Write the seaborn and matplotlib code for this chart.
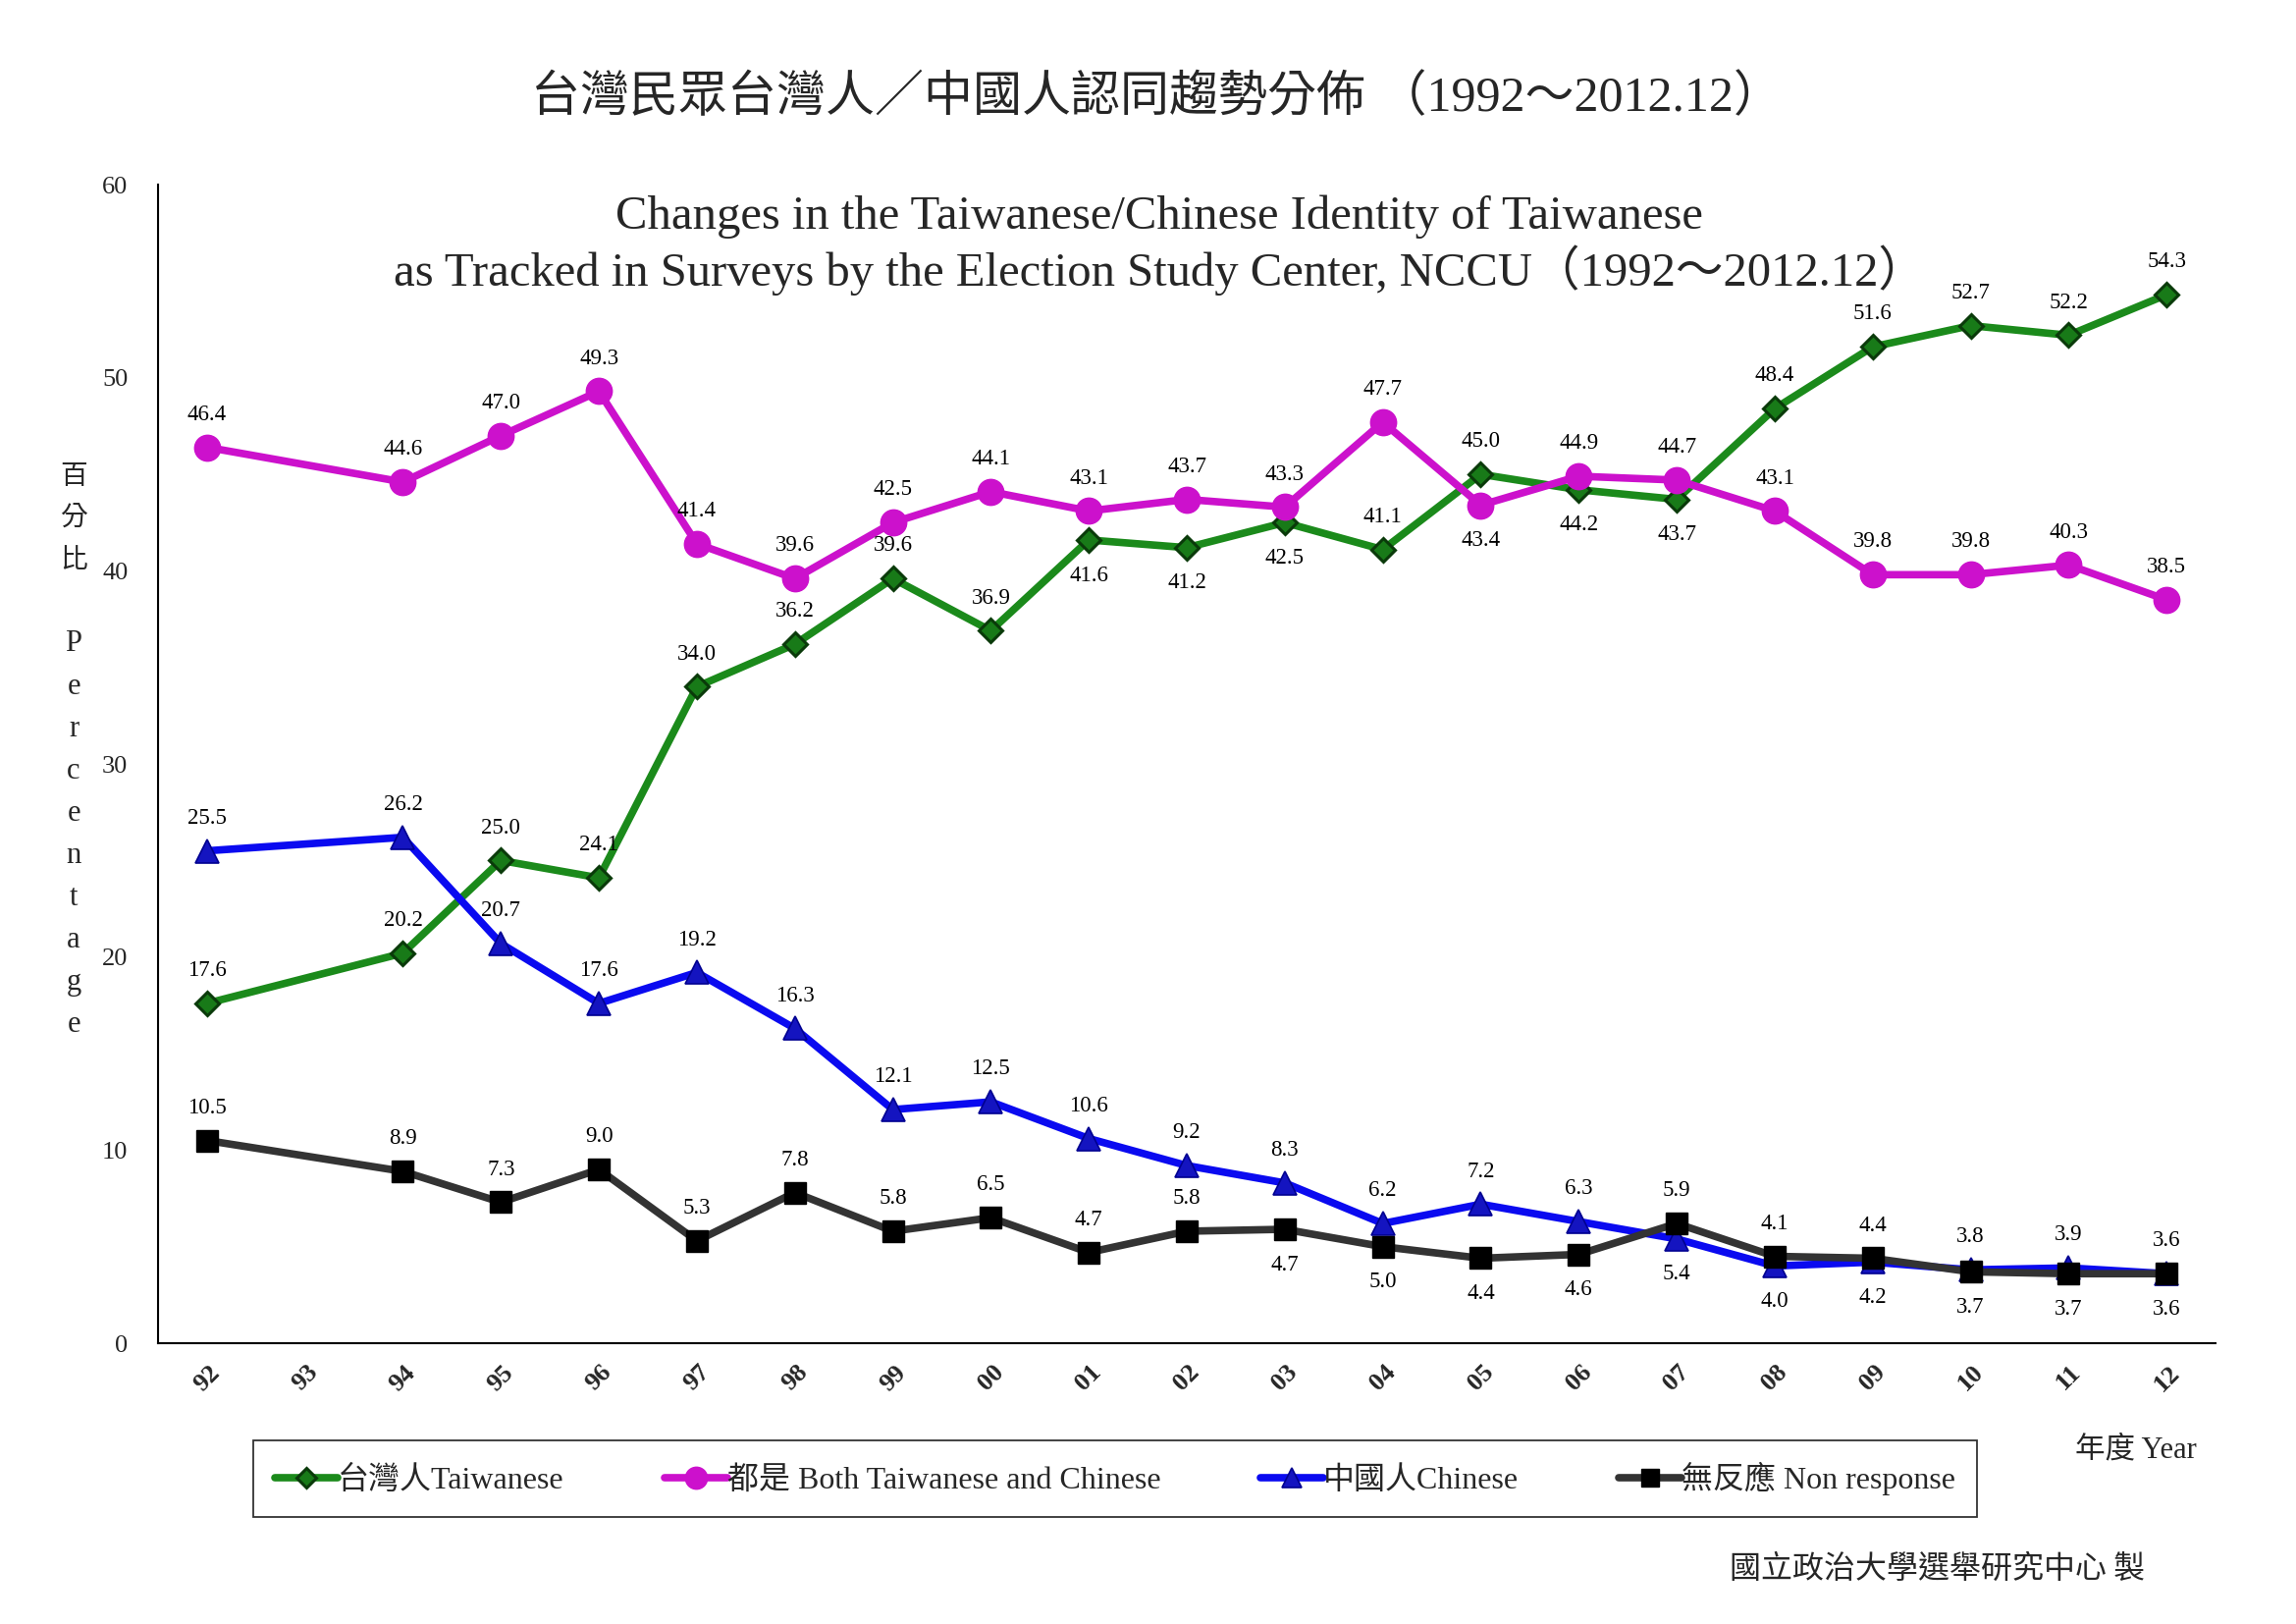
import matplotlib
matplotlib.use("Agg")
import matplotlib.pyplot as plt
import seaborn as sns
import pandas as pd
import numpy as np

# ---------------- data ----------------
years = ["92", "93", "94", "95", "96", "97", "98", "99", "00", "01", "02",
         "03", "04", "05", "06", "07", "08", "09", "10", "11", "12"]
survey_years = ["92", "94", "95", "96", "97", "98", "99", "00", "01", "02",
                "03", "04", "05", "06", "07", "08", "09", "10", "11", "12"]

taiwanese = [17.6, 20.2, 25.0, 24.1, 34.0, 36.2, 39.6, 36.9, 41.6, 41.2,
             42.5, 41.1, 45.0, 44.2, 43.7, 48.4, 51.6, 52.7, 52.2, 54.3]
both = [46.4, 44.6, 47.0, 49.3, 41.4, 39.6, 42.5, 44.1, 43.1, 43.7,
        43.3, 47.7, 43.4, 44.9, 44.7, 43.1, 39.8, 39.8, 40.3, 38.5]
chinese = [25.5, 26.2, 20.7, 17.6, 19.2, 16.3, 12.1, 12.5, 10.6, 9.2,
           8.3, 6.2, 7.2, 6.3, 5.4, 4.0, 4.2, 3.8, 3.9, 3.6]
non_response = [10.5, 8.9, 7.3, 9.0, 5.3, 7.8, 5.8, 6.5, 4.7, 5.8,
                5.9, 5.0, 4.4, 4.6, 6.2, 4.5, 4.4, 3.7, 3.6, 3.6]
# data labels as printed on the original chart
non_response_labels = ["10.5", "8.9", "7.3", "9.0", "5.3", "7.8", "5.8", "6.5", "4.7", "5.8",
                       "4.7", "5.0", "4.4", "4.6", "5.9", "4.1", "4.4", "3.7", "3.7", "3.6"]

series_names = ["台灣人Taiwanese", "都是 Both Taiwanese and Chinese",
                "中國人Chinese", "無反應 Non response"]

# label placement: a = above, b = below
taiwanese_pos = list("aaaaaaaabbbaabbaaaaa")
both_pos = list("aaaaaaaaaaaaba" + "aaaaaa")
chinese_pos = list("aaaaaaaaaaaaaabbbaaa")
non_response_pos = list("aaaaaaaaaabbbbaaabbb")

# ---------------- style ----------------
sns.set_style("white")
plt.rcParams["font.family"] = ["Liberation Serif", "Noto Sans CJK TC", "DejaVu Sans"]
CJK = ["Noto Sans CJK TC", "DejaVu Sans"]
SERIF_CJK = ["Liberation Serif", "Noto Sans CJK TC", "DejaVu Sans"]

fig = plt.figure(figsize=(23.39, 16.54), dpi=100)
ax = fig.add_axes([0.0688, 0.1729, 0.8962, 0.7134])

pos_of = {y: i for i, y in enumerate(years)}
xpos = [pos_of[y] for y in survey_years]

df = pd.DataFrame({"x": xpos, "taiwanese": taiwanese, "both": both,
                   "chinese": chinese, "non_response": non_response})

styles = [
    dict(col="taiwanese", color="#1b8a1b", marker="D", ms=12, mfc="#187a18", mec="#0a3a0a", mew=2.2),
    dict(col="both", color="#cc11cc", marker="o", ms=19, mfc="#cc11cc", mec="#cc11cc", mew=1),
    dict(col="chinese", color="#0a0af0", marker="^", ms=17, mfc="#1414c0", mec="#000090", mew=1.2),
    dict(col="non_response", color="#333333", marker="s", ms=16, mfc="#000000", mec="#000000", mew=1),
]

for st, name in zip(styles, series_names):
    sns.lineplot(data=df, x="x", y=st["col"], ax=ax, color=st["color"], linewidth=5.5,
                 marker=st["marker"], markersize=st["ms"], markerfacecolor=st["mfc"],
                 markeredgecolor=st["mec"], markeredgewidth=st["mew"], label=name,
                 legend=False)

def put_labels(vals, texts, where):
    for x, v, t, w in zip(xpos, vals, texts, where):
        dy = 24 if w == "a" else -26
        ax.annotate(t, (x, v), xytext=(0, dy), textcoords="offset points",
                    ha="center", va="center", fontsize=16.5, family="Liberation Serif",
                    color="black")

put_labels(taiwanese, [f"{v:.1f}" for v in taiwanese], taiwanese_pos)
put_labels(both, [f"{v:.1f}" for v in both], both_pos)
put_labels(chinese, [f"{v:.1f}" for v in chinese], chinese_pos)
put_labels(non_response, non_response_labels, non_response_pos)

# ---------------- axes ----------------
ax.set_xlim(-0.5, len(years) - 0.5)
ax.set_ylim(0, 60)
ax.set_yticks(np.arange(0, 61, 10))
ax.set_xticks(range(len(years)))
ax.set_xticklabels(years, rotation=45, fontsize=19, fontweight="bold",
                   family="Liberation Serif", ha="center", va="top")
ax.set_xticks(np.arange(-0.5, len(years), 1), minor=True)
ax.tick_params(axis="x", which="major", length=0, pad=13)
ax.tick_params(axis="x", which="minor", length=10, width=1.2, direction="in", color="black")
ax.tick_params(axis="y", which="major", length=10, width=1.2, direction="in",
               labelsize=19, pad=22, color="black")
for lab in ax.get_yticklabels():
    lab.set_family("Liberation Serif")
ax.set_xlabel("")
ax.set_ylabel("")
for s in ["top", "right"]:
    ax.spines[s].set_visible(False)
for s in ["left", "bottom"]:
    ax.spines[s].set_color("black")
    ax.spines[s].set_linewidth(1.5)
ax.grid(False)

# ---------------- titles / texts ----------------
fig.text(0.504, 1 - 100 / 1654, "台灣民眾台灣人／中國人認同趨勢分佈 （1992～2012.12）",
         ha="center", va="center", fontsize=36, family=SERIF_CJK)
fig.text(0.505, 1 - 250 / 1654,
         "Changes in the Taiwanese/Chinese Identity of Taiwanese\n"
         "as Tracked in Surveys by the Election Study Center, NCCU（1992～2012.12）",
         ha="center", va="center", fontsize=35, family=SERIF_CJK,
         multialignment="center", linespacing=1.15)

# vertical y-axis label
for i, ch in enumerate("百分比"):
    fig.text(75 / 2339, 1 - (485 + 42.5 * i) / 1654, ch, ha="center", va="center",
             fontsize=20, family=CJK)
for i, ch in enumerate("Percentage"):
    fig.text(75 / 2339, 1 - (656 + 43.1 * i) / 1654, ch, ha="center", va="center",
             fontsize=22, family="Liberation Serif")

fig.text(2176 / 2339, 1 - 1477 / 1654, "年度 Year", ha="center", va="center",
         fontsize=22, family=SERIF_CJK)
fig.text(2185 / 2339, 1 - 1598 / 1654, "國立政治大學選舉研究中心 製", ha="right",
         va="center", fontsize=23, family=CJK)

# ---------------- legend ----------------
leg = fig.legend(handles=ax.lines[:4], labels=series_names, loc="center",
                 bbox_to_anchor=(258 / 2339, 1 - 1547 / 1654, 1756 / 2339, 82 / 1654),
                 mode="expand", ncol=4, frameon=True, fancybox=False, edgecolor="black",
                 fontsize=23, handlelength=2.0, handletextpad=0.0, numpoints=1,
                 borderpad=0.7, borderaxespad=0)
leg.get_frame().set_linewidth(1.3)
for t in leg.get_texts():
    t.set_family(SERIF_CJK)
for h in leg.legend_handles:
    h.set_markersize(h.get_markersize() * 0.85)
# shift legend content right slightly so first handle starts like the reference
leg._legend_box.set_offset = leg._legend_box.set_offset

fig.savefig("out.png", dpi=100)
